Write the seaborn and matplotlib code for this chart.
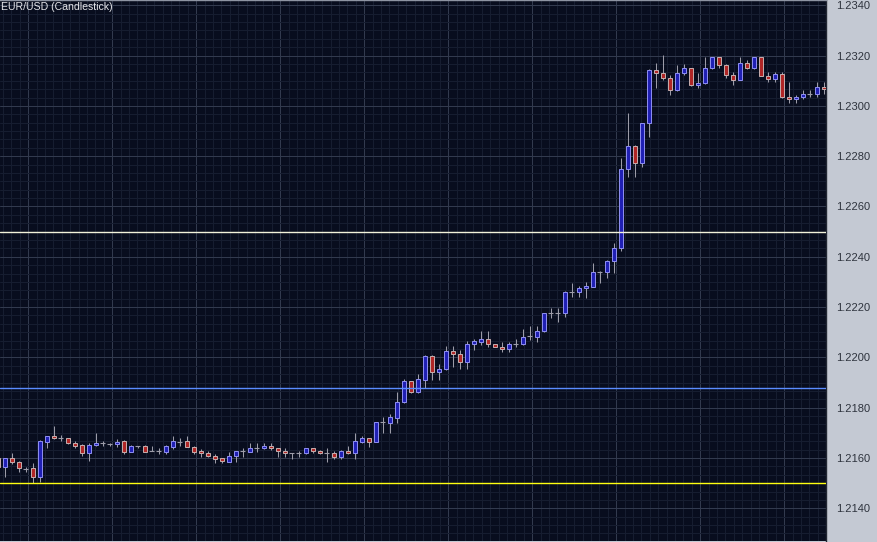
import numpy as np
import pandas as pd
import matplotlib
matplotlib.use("Agg")
import matplotlib.pyplot as plt
from matplotlib.ticker import FixedLocator, MultipleLocator, FormatStrFormatter
import seaborn as sns


# ==========================================
# DATA (EUR/USD candles)
# ==========================================

opens = [
    1.21599, 1.21565, 1.21599, 1.21585, 1.21555, 1.21559, 1.21526, 1.21665, 1.21687, 1.21681,
    1.21678, 1.21658, 1.21652, 1.21619, 1.21651, 1.21658, 1.21657, 1.21656, 1.21668, 1.21625,
    1.21648, 1.21648, 1.21627, 1.21629, 1.21625, 1.21645, 1.21665, 1.21668, 1.21645, 1.21628,
    1.21620, 1.21606, 1.21599, 1.21585, 1.21607, 1.21627, 1.21625, 1.21639, 1.21639, 1.21647,
    1.21639, 1.21628, 1.21619, 1.21621, 1.21619, 1.21639, 1.21628, 1.21620, 1.21619, 1.21605,
    1.21628, 1.21619, 1.21665, 1.21678, 1.21665, 1.21742, 1.21741, 1.21761, 1.21821, 1.21906,
    1.21861, 1.21910, 1.22006, 1.21943, 1.21953, 1.22025, 1.22012, 1.21983, 1.22052, 1.22062,
    1.22072, 1.22052, 1.22043, 1.22032, 1.22053, 1.22052, 1.22085, 1.22082, 1.22103, 1.22178,
    1.22178, 1.22175, 1.22261, 1.22261, 1.22275, 1.22281, 1.22341, 1.22341, 1.22384, 1.22434,
    1.22748, 1.22841, 1.22772, 1.22931, 1.23143, 1.23130, 1.23110, 1.23063, 1.23130, 1.23150,
    1.23083, 1.23090, 1.23150, 1.23193, 1.23163, 1.23123, 1.23103, 1.23172, 1.23150, 1.23193,
    1.23119, 1.23106, 1.23127, 1.23034, 1.23026, 1.23034, 1.23046, 1.23046, 1.23076,
]

highs = [
    1.21606, 1.21600, 1.21619, 1.21590, 1.21566, 1.21580, 1.21670, 1.21689, 1.21727, 1.21691,
    1.21680, 1.21669, 1.21654, 1.21661, 1.21699, 1.21669, 1.21658, 1.21674, 1.21670, 1.21650,
    1.21649, 1.21650, 1.21648, 1.21640, 1.21650, 1.21687, 1.21680, 1.21687, 1.21647, 1.21636,
    1.21628, 1.21617, 1.21601, 1.21625, 1.21629, 1.21641, 1.21660, 1.21658, 1.21658, 1.21658,
    1.21641, 1.21639, 1.21620, 1.21628, 1.21641, 1.21641, 1.21630, 1.21639, 1.21628, 1.21630,
    1.21648, 1.21699, 1.21687, 1.21680, 1.21744, 1.21762, 1.21775, 1.21861, 1.21913, 1.21908,
    1.21934, 1.22008, 1.22008, 1.21974, 1.22045, 1.22045, 1.22029, 1.22064, 1.22073, 1.22105,
    1.22105, 1.22054, 1.22063, 1.22063, 1.22072, 1.22112, 1.22125, 1.22125, 1.22177, 1.22196,
    1.22196, 1.22263, 1.22295, 1.22284, 1.22301, 1.22374, 1.22343, 1.22386, 1.22454, 1.22792,
    1.22971, 1.22843, 1.22933, 1.23145, 1.23172, 1.23202, 1.23123, 1.23163, 1.23167, 1.23152,
    1.23130, 1.23196, 1.23195, 1.23195, 1.23165, 1.23136, 1.23196, 1.23182, 1.23195, 1.23195,
    1.23136, 1.23136, 1.23136, 1.23096, 1.23043, 1.23063, 1.23063, 1.23096, 1.23096,
]

lows = [
    1.21560, 1.21526, 1.21576, 1.21546, 1.21544, 1.21499, 1.21506, 1.21639, 1.21676, 1.21669,
    1.21656, 1.21639, 1.21609, 1.21589, 1.21649, 1.21648, 1.21648, 1.21645, 1.21616, 1.21623,
    1.21639, 1.21623, 1.21626, 1.21617, 1.21617, 1.21636, 1.21647, 1.21643, 1.21617, 1.21605,
    1.21604, 1.21579, 1.21579, 1.21583, 1.21585, 1.21605, 1.21623, 1.21625, 1.21637, 1.21632,
    1.21605, 1.21605, 1.21597, 1.21605, 1.21617, 1.21619, 1.21617, 1.21585, 1.21596, 1.21596,
    1.21617, 1.21597, 1.21658, 1.21645, 1.21663, 1.21699, 1.21699, 1.21741, 1.21819, 1.21857,
    1.21859, 1.21877, 1.21910, 1.21910, 1.21951, 1.21963, 1.21952, 1.21952, 1.22031, 1.22049,
    1.22043, 1.22041, 1.22023, 1.22023, 1.22043, 1.22050, 1.22069, 1.22062, 1.22101, 1.22155,
    1.22142, 1.22162, 1.22241, 1.22241, 1.22235, 1.22279, 1.22295, 1.22314, 1.22334, 1.22424,
    1.22718, 1.22718, 1.22758, 1.22878, 1.23070, 1.23103, 1.23043, 1.23061, 1.23123, 1.23081,
    1.23070, 1.23088, 1.23148, 1.23150, 1.23110, 1.23083, 1.23101, 1.23148, 1.23148, 1.23117,
    1.23096, 1.23096, 1.23032, 1.23013, 1.23013, 1.23026, 1.23034, 1.23034, 1.23046,
]

closes = [
    1.21565, 1.21599, 1.21585, 1.21559, 1.21555, 1.21526, 1.21668, 1.21687, 1.21678, 1.21681,
    1.21658, 1.21649, 1.21619, 1.21652, 1.21660, 1.21658, 1.21657, 1.21665, 1.21625, 1.21648,
    1.21648, 1.21625, 1.21627, 1.21629, 1.21648, 1.21668, 1.21665, 1.21645, 1.21625, 1.21619,
    1.21606, 1.21598, 1.21587, 1.21606, 1.21627, 1.21627, 1.21639, 1.21639, 1.21647, 1.21639,
    1.21627, 1.21619, 1.21619, 1.21621, 1.21639, 1.21627, 1.21619, 1.21620, 1.21605, 1.21628,
    1.21619, 1.21668, 1.21678, 1.21665, 1.21742, 1.21742, 1.21762, 1.21821, 1.21906, 1.21861,
    1.21913, 1.22006, 1.21943, 1.21953, 1.22025, 1.22012, 1.21983, 1.22052, 1.22065, 1.22072,
    1.22052, 1.22043, 1.22032, 1.22052, 1.22053, 1.22082, 1.22085, 1.22104, 1.22175, 1.22178,
    1.22178, 1.22261, 1.22261, 1.22275, 1.22284, 1.22341, 1.22341, 1.22384, 1.22434, 1.22748,
    1.22841, 1.22772, 1.22931, 1.23143, 1.23130, 1.23110, 1.23063, 1.23130, 1.23150, 1.23083,
    1.23092, 1.23150, 1.23193, 1.23163, 1.23123, 1.23103, 1.23172, 1.23150, 1.23193, 1.23119,
    1.23106, 1.23127, 1.23034, 1.23026, 1.23034, 1.23046, 1.23046, 1.23076, 1.23066,
]

# horizontal price levels drawn across the chart
level_prices = [1.2250, 1.2188, 1.2150]

price_ticks = [1.2140, 1.2160, 1.2180, 1.2200, 1.2220, 1.2240, 1.2260,
               1.2280, 1.2300, 1.2320, 1.2340]

title = "EUR/USD (Candlestick)"


# ==========================================
# DATAFRAME
# ==========================================

df = pd.DataFrame({
    "open": opens,
    "high": highs,
    "low": lows,
    "close": closes,
})
df["x"] = np.arange(len(df))

bull = df[df["close"] > df["open"]]
bear = df[df["close"] < df["open"]]
doji = df[df["close"] == df["open"]]


# ==========================================
# STYLE
# ==========================================

bg_color = "#080d1e"
panel_color = "#c4c9d3"
grid_minor = "#161d30"
grid_major = "#323a4e"
wick_color = "#9c9ca8"

sns.set_style("dark", rc={
    "axes.facecolor": bg_color,
    "figure.facecolor": panel_color,
})
plt.rcParams["font.family"] = ["Liberation Sans", "DejaVu Sans"]


# ==========================================
# PLOT
# ==========================================

fig = plt.figure(figsize=(8.77, 5.42), dpi=100)
ax = fig.add_axes([0, 1 / 542, 826 / 877, 541 / 542])

# wicks
ax.vlines(df["x"], df["low"], df["high"],
          color=wick_color, linewidth=0.75, zorder=2)

# bodies
body_w = 0.66
ax.bar(bull["x"], bull["close"] - bull["open"], bottom=bull["open"],
       width=body_w, color="#2020b4", edgecolor="#8c8cee",
       linewidth=0.72, zorder=3)
ax.bar(bear["x"], bear["open"] - bear["close"], bottom=bear["close"],
       width=body_w, color="#b02626", edgecolor="#c4aaaa",
       linewidth=0.72, zorder=3)
ax.hlines(doji["close"], doji["x"] - 0.36, doji["x"] + 0.36,
          color=wick_color, linewidth=0.8, zorder=3)

# price levels
for price, col in zip(level_prices, ["#f2f2da", "#5a8cff", "#ffff10"]):
    ax.axhline(price, color=col, linewidth=1.0, zorder=4)

# axes range
ax.set_xlim(0.29, 118.29)
ax.set_ylim(1.21270, 1.23421)

# grid
ax.xaxis.set_major_locator(FixedLocator(np.arange(4.33, 119, 12)))
ax.xaxis.set_minor_locator(FixedLocator(np.arange(4.33 % 1.2, 119, 1.2)))
ax.yaxis.set_major_locator(FixedLocator(price_ticks))
ax.yaxis.set_minor_locator(MultipleLocator(0.002 / 6))
ax.grid(which="minor", color=grid_minor, linewidth=0.72)
ax.grid(which="major", color=grid_major, linewidth=0.72)
ax.set_axisbelow(True)

# price labels on the right panel
ax.yaxis.tick_right()
ax.yaxis.set_major_formatter(FormatStrFormatter("%.4f"))
ax.tick_params(axis="y", which="both", length=0, pad=7,
               labelsize=8, labelcolor="#2e333d")
ax.tick_params(axis="x", which="both", length=0,
               labelbottom=False)

for side in ["left", "bottom"]:
    ax.spines[side].set_visible(False)
ax.spines["top"].set_color("#8e94a2")
ax.spines["top"].set_linewidth(1.0)
ax.spines["right"].set_color("#222733")
ax.spines["right"].set_linewidth(1.0)

ax.text(0.0015, 0.997, title, transform=ax.transAxes,
        ha="left", va="top", color="#e4e4e8", fontsize=7.6, zorder=5)

fig.savefig("out.png", dpi=100)
